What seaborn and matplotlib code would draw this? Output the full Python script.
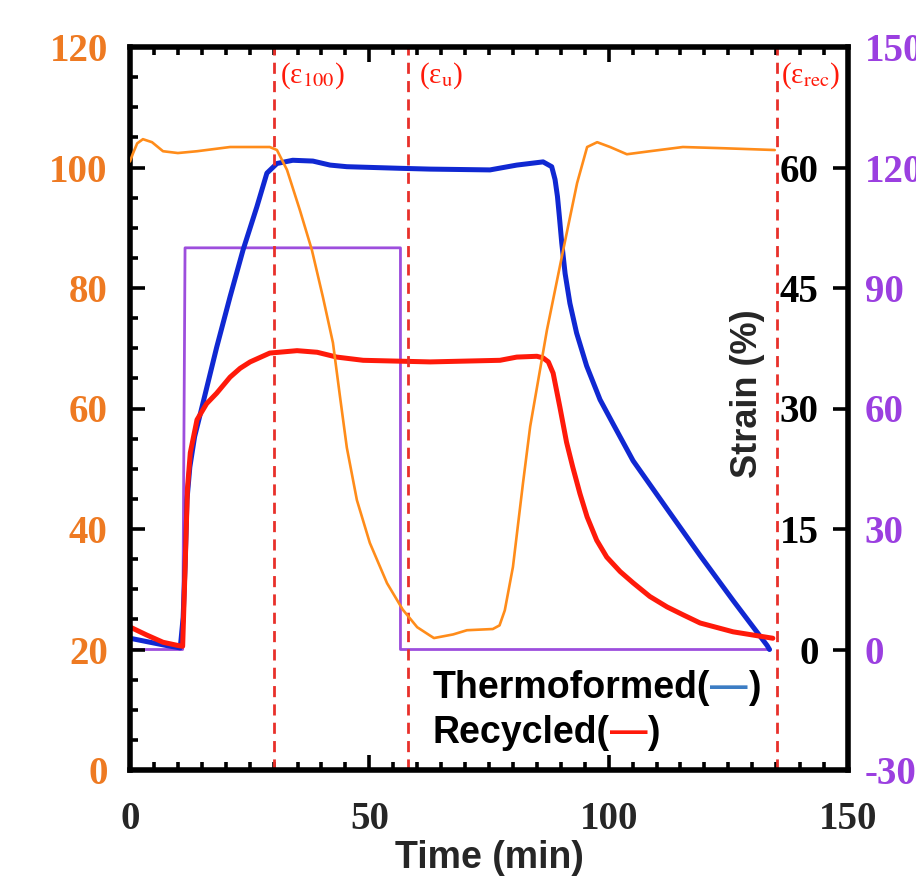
import numpy as np
import pandas as pd
import matplotlib
matplotlib.use("Agg")
import matplotlib.pyplot as plt
import seaborn as sns
from matplotlib.ticker import MultipleLocator
from matplotlib.offsetbox import TextArea, HPacker, AnnotationBbox

# ---------------- data ----------------
temp_time = [0, 0.6, 1.5, 2.7, 4.6, 6.9, 10, 14, 20.9, 26, 29.2, 30.7, 32.8, 35.5, 38,
             40.3, 42.4, 43.9, 45.3, 47.4, 50.1, 53.7, 57.0, 60, 62.7, 63.5, 67.5,
             70.4, 75.8, 77.2, 78.3, 80, 82.1, 83.6, 87.1, 90.5, 93.4, 95.5, 97.6,
             100.3, 103.8, 108.6, 115.5, 123.9, 134.7]
temp_vals = [101.0, 102.3, 104.0, 104.7, 104.2, 102.7, 102.4, 102.7, 103.4, 103.4, 103.4,
             102.9, 99.6, 92.9, 86.3, 78.5, 70.9, 61.8, 53.5, 44.8, 37.7, 31.0, 26.6,
             23.7, 22.3, 21.9, 22.5, 23.2, 23.4, 24.0, 26.5, 33.7, 47.6, 57.0, 73.0,
             86.3, 97.4, 103.4, 104.2, 103.4, 102.2, 102.7, 103.4, 103.2, 102.9]

thermo_time = [0, 4.2, 8, 10.5, 11.1, 11.5, 11.9, 12.5, 13.5, 14.8, 18.1, 20.9, 23.6,
               26.5, 28.6, 30.7, 34, 38.2, 41.8, 45.3, 56.4, 62.7, 75.2, 80.8, 86.3,
               88.1, 88.8, 89.3, 89.7, 90.2, 90.9, 91.9, 93.3, 95.4, 98.2, 101.0,
               105.1, 112.2, 119.1, 126, 133.1, 133.6]
thermo_strain = [1.4, 0.9, 0.45, 0.2, 4.0, 10.3, 18.6, 22.7, 26.5, 29.6, 37.6, 43.9, 49.7,
                 55.1, 59.3, 60.5, 60.9, 60.8, 60.3, 60.1, 59.9, 59.8, 59.7, 60.3, 60.7,
                 60.1, 58.5, 56.4, 53.9, 50.6, 46.8, 43.1, 39.4, 35.3, 31.1, 28.0,
                 23.5, 17.5, 11.7, 6.1, 0.5, 0.0]

recyc_time = [0, 3.5, 6.9, 10, 11.0, 11.5, 12.0, 12.6, 14, 16.0, 18.1, 20.9, 23.0, 25.1,
              29.2, 34.9, 39.1, 43.2, 48.7, 62.7, 77.3, 80.8, 85, 86.3, 87.4, 88.4,
              89.1, 89.8, 90.5, 91.2, 92.5, 94.0, 95.5, 97.5, 99.6, 102.4, 105.1,
              108.6, 112.2, 115.6, 119.1, 126, 134.3]
recyc_strain = [2.8, 1.8, 0.9, 0.5, 0.4, 10.0, 20.0, 24.5, 28.6, 30.6, 31.9, 33.9, 35.0,
                35.8, 36.9, 37.2, 37.0, 36.4, 36.0, 35.8, 36.0, 36.4, 36.5, 36.3, 35.8,
                34.4, 32.3, 30.2, 28.0, 25.8, 22.7, 19.4, 16.5, 13.6, 11.5, 9.7, 8.3,
                6.6, 5.3, 4.3, 3.3, 2.2, 1.4]

stress_time = [0, 11.0, 11.5, 56.5, 56.5, 133.8]
stress_vals = [0, 0, 100, 100, 0, 0]

marker_times = [30, 58, 135.2]
marker_labels = ["(ε$_{100}$)", "(ε$_{\\mathrm{u}}$)", "(ε$_{\\mathrm{rec}}$)"]
marker_label_x = [31.4, 60.4, 136.0]

x_ticks = [0, 50, 100, 150]
temp_ticks = [0, 20, 40, 60, 80, 100, 120]
strain_ticks = [0, 15, 30, 45, 60]
stress_ticks = [-30, 0, 30, 60, 90, 120, 150]

legend_names = ["Thermoformed(", "Recycled("]
legend_dash_colors = ["#3C7DC4", "#FF1A0A"]
legend_y = [13.6, 6.2]

# ---------------- style ----------------
sns.set_style("ticks")
plt.rcParams["font.family"] = ["Liberation Serif", "DejaVu Serif"]
plt.rcParams["mathtext.fontset"] = "stix"
plt.rcParams["axes.unicode_minus"] = False

ORANGE_LINE = "#FF8C1A"
ORANGE_TXT = "#EE7A22"
BLUE = "#1028D2"
RED = "#FF1A0A"
PURPLE = "#9D4EDD"
PURPLE_TXT = "#9B3FE0"
DASH_RED = "#E8302A"

fig = plt.figure(figsize=(9.16, 8.86), dpi=100)
ax = fig.add_axes([130 / 916, 1 - 770 / 886, 718 / 916, 723 / 886])
ax_p = ax.twinx()
ax_s = ax.twinx()

df_t = pd.DataFrame({"t": temp_time, "v": temp_vals})
df_b = pd.DataFrame({"t": thermo_time, "v": thermo_strain})
df_r = pd.DataFrame({"t": recyc_time, "v": recyc_strain})
df_p = pd.DataFrame({"t": stress_time, "v": stress_vals})

sns.lineplot(data=df_t, x="t", y="v", ax=ax, color=ORANGE_LINE, lw=1.9,
             estimator=None, sort=False, zorder=5)
sns.lineplot(data=df_p, x="t", y="v", ax=ax_p, color=PURPLE, lw=2.0,
             estimator=None, sort=False)
sns.lineplot(data=df_b, x="t", y="v", ax=ax_s, color=BLUE, lw=3.6,
             estimator=None, sort=False)
sns.lineplot(data=df_r, x="t", y="v", ax=ax_s, color=RED, lw=3.6,
             estimator=None, sort=False)
for ln in ax.lines + ax_s.lines + ax_p.lines:
    ln.set_solid_joinstyle("round")
    ln.set_solid_capstyle("round")

for xm in marker_times:
    ax.axvline(xm, color=DASH_RED, lw=2.0, ls=(0, (4, 2.6)), zorder=1)
for xl, lab in zip(marker_label_x, marker_labels):
    ax.text(xl, 115.3, lab, color=RED, fontsize=21, ha="left", va="center",
            family="Liberation Serif")

# main axis
ax.set_xlim(0, 150)
ax.set_ylim(0, 120)
ax.set_xticks(x_ticks)
ax.set_yticks(temp_ticks)
ax.xaxis.set_minor_locator(MultipleLocator(5))
ax.yaxis.set_minor_locator(MultipleLocator(5))
ax.tick_params(axis="x", which="both", direction="in", top=True, bottom=True,
               width=2.6, color="black")
ax.tick_params(axis="x", which="major", length=11, pad=22, labelsize=28)
ax.tick_params(axis="x", which="minor", length=5.5)
ax.tick_params(axis="y", which="both", direction="in", left=True, right=False,
               width=2.6, color="black")
ax.tick_params(axis="y", which="major", length=11, pad=16, labelsize=28,
               labelcolor=ORANGE_TXT)
ax.tick_params(axis="y", which="minor", length=5.5)
for lab in ax.get_xticklabels() + ax.get_yticklabels():
    lab.set_fontweight("bold")
for sp in ax.spines.values():
    sp.set_linewidth(4)
    sp.set_color("black")
    sp.set_visible(True)
ax.set_xlabel("Time (min)", fontsize=27, fontweight="bold",
              family="Liberation Sans", labelpad=2)
ax.set_ylabel("")

# stress axis (purple, outside)
ax_p.set_ylim(-30, 150)
ax_p.set_yticks(stress_ticks)
ax_p.tick_params(axis="y", which="both", length=0, pad=12, labelsize=28,
                 labelcolor=PURPLE_TXT)
for lab in ax_p.get_yticklabels():
    lab.set_fontweight("bold")
ax_p.set_ylabel("")
for sp in ax_p.spines.values():
    sp.set_visible(False)

# strain axis (inside right)
ax_s.set_ylim(-15, 75)
ax_s.set_yticks(strain_ticks)
ax_s.tick_params(axis="y", which="major", direction="in", length=11, width=2.6,
                 pad=-21, labelsize=28, color="black", labelcolor="black")
ax_s.yaxis.set_minor_locator(plt.NullLocator())
for lab in ax_s.get_yticklabels():
    lab.set_fontweight("bold")
    lab.set_horizontalalignment("right")
ax_s.set_ylabel("")
for sp in ax_s.spines.values():
    sp.set_visible(False)
ax_s.text(0.86, 0.52, "Strain (%)", transform=ax_s.transAxes, rotation=90,
          fontsize=26, fontweight="bold", family="Liberation Sans",
          ha="center", va="center")

# legend-like annotation
for name, dcol, yy in zip(legend_names, legend_dash_colors, legend_y):
    props = dict(fontsize=27, fontweight="bold", family="Liberation Sans", color="black")
    box = HPacker(children=[TextArea(name, textprops=props),
                            TextArea("\u2014", textprops=dict(props, color=dcol)),
                            TextArea(")", textprops=props)],
                  align="baseline", pad=0, sep=0)
    ab = AnnotationBbox(box, (63.3, yy), xycoords=ax.transData, box_alignment=(0, 0.5),
                        frameon=False, pad=0)
    ax.add_artist(ab)

ax.set_zorder(ax_s.get_zorder() + 1)
ax.patch.set_visible(False)

fig.savefig("out.png", dpi=100, facecolor="white")
